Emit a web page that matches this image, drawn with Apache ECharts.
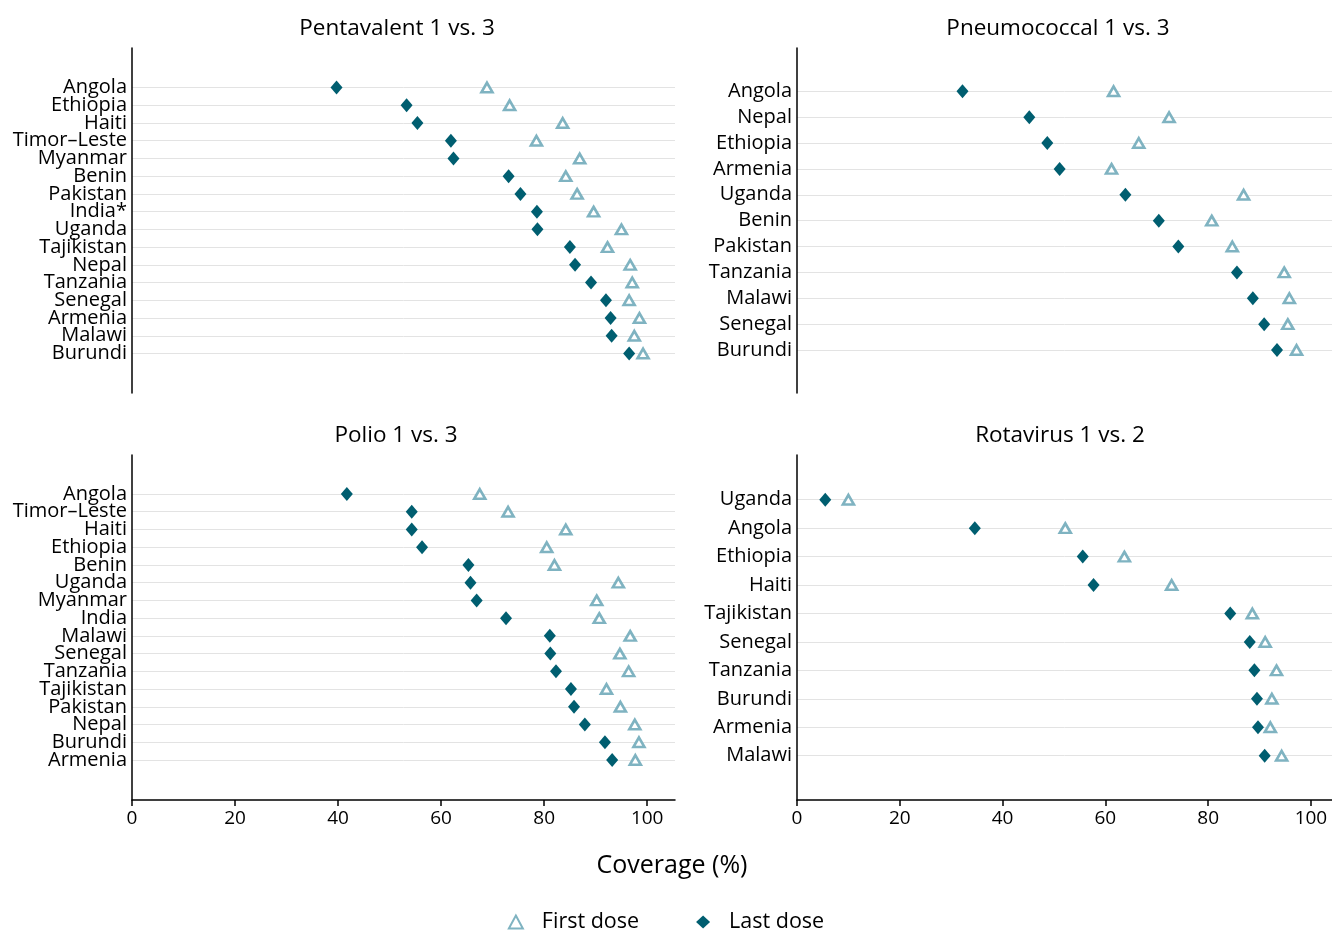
<!DOCTYPE html>
<html>
<head>
<meta charset="utf-8">
<script src="https://cdn.jsdelivr.net/npm/echarts@6/dist/echarts.min.js"></script>
<style>
  html, body { margin: 0; padding: 0; background: #fff; }
  #chart { width: 1332px; height: 930px; }
</style>
</head>
<body>
<div id="chart"></div>
<script>
// data
var pentaCountries = ['Angola', 'Ethiopia', 'Haiti', 'Timor\u2013Leste', 'Myanmar', 'Benin', 'Pakistan', 'India*', 'Uganda', 'Tajikistan', 'Nepal', 'Tanzania', 'Senegal', 'Armenia', 'Malawi', 'Burundi'];
var pentaFirst = [68.9, 73.3, 83.6, 78.5, 86.9, 84.2, 86.4, 89.6, 95.0, 92.3, 96.7, 97.1, 96.5, 98.5, 97.5, 99.2];
var pentaLast = [39.7, 53.3, 55.4, 61.9, 62.4, 73.1, 75.4, 78.6, 78.7, 85.0, 86.0, 89.1, 92.0, 92.9, 93.1, 96.5];

var pneumoCountries = ['Angola', 'Nepal', 'Ethiopia', 'Armenia', 'Uganda', 'Benin', 'Pakistan', 'Tanzania', 'Malawi', 'Senegal', 'Burundi'];
var pneumoFirst = [61.6, 72.4, 66.5, 61.2, 86.9, 80.7, 84.7, 94.8, 95.8, 95.5, 97.2];
var pneumoLast = [32.2, 45.2, 48.7, 51.1, 63.9, 70.4, 74.2, 85.6, 88.7, 90.9, 93.4];

var polioCountries = ['Angola', 'Timor\u2013Leste', 'Haiti', 'Ethiopia', 'Benin', 'Uganda', 'Myanmar', 'India', 'Malawi', 'Senegal', 'Tanzania', 'Tajikistan', 'Pakistan', 'Nepal', 'Burundi', 'Armenia'];
var polioFirst = [67.5, 73.0, 84.2, 80.5, 82.0, 94.4, 90.2, 90.7, 96.7, 94.7, 96.4, 92.1, 94.8, 97.6, 98.4, 97.7];
var polioLast = [41.7, 54.3, 54.3, 56.3, 65.3, 65.7, 66.9, 72.6, 81.1, 81.2, 82.3, 85.2, 85.8, 87.9, 91.8, 93.2];

var rotaCountries = ['Uganda', 'Angola', 'Ethiopia', 'Haiti', 'Tajikistan', 'Senegal', 'Tanzania', 'Burundi', 'Armenia', 'Malawi'];
var rotaFirst = [10.0, 52.2, 63.7, 72.9, 88.6, 91.1, 93.3, 92.4, 92.1, 94.3];
var rotaLast = [5.5, 34.6, 55.6, 57.7, 84.3, 88.1, 89.0, 89.5, 89.7, 91.0];

var xTicks = [0, 20, 40, 60, 80, 100];

var FONT = 'Open Sans';
var TXT = '#000';
var firstColor = '#7fb3c1';
var lastColor = '#005e70';

// panel boxes (pixels); inner = first/last category row
var panels = [
	{title: 'Pentavalent 1 vs. 3', titleX: 392, titleY: 12, left: 132, width: 543, top: 48, height: 345, innerTop: 87.5, innerBottom: 353.5, max: 105.4, xLabels: false,
		cats: pentaCountries, first: pentaFirst, last: pentaLast},
	{title: 'Pneumococcal 1 vs. 3', titleX: 1053, titleY: 12, left: 797, width: 535, top: 48, height: 345, innerTop: 91.3, innerBottom: 350, max: 104.1, xLabels: false,
		cats: pneumoCountries, first: pneumoFirst, last: pneumoLast},
	{title: 'Polio 1 vs. 3', titleX: 391, titleY: 419, left: 132, width: 543, top: 455, height: 345, innerTop: 494, innerBottom: 760, max: 105.4, xLabels: true,
		cats: polioCountries, first: polioFirst, last: polioLast},
	{title: 'Rotavirus 1 vs. 2', titleX: 1055, titleY: 419, left: 797, width: 535, top: 455, height: 345, innerTop: 499.7, innerBottom: 755.7, max: 104.1, xLabels: true,
		cats: rotaCountries, first: rotaFirst, last: rotaLast}
];

var grids = [], xAxes = [], yAxes = [], series = [], titles = [];

// outer grids: axis lines, x labels
panels.forEach(function (p, i) {
	grids.push({left: p.left, top: p.top, width: p.width, height: p.height});
	xAxes.push({
		gridIndex: i, type: 'value', min: 0, max: p.max,
		axisLine: {show: p.xLabels, onZero: false, lineStyle: {color: '#000', width: 1.5}},
		axisTick: {show: p.xLabels, length: 6, customValues: xTicks, lineStyle: {color: '#000', width: 1.5}},
		axisLabel: {show: p.xLabels, customValues: xTicks, margin: 9, color: TXT, fontFamily: FONT, fontSize: 19},
		splitLine: {show: false}
	});
	yAxes.push({
		gridIndex: i, type: 'value', min: 0, max: 1,
		axisLine: {show: true, lineStyle: {color: '#000', width: 1.5}},
		axisTick: {show: false}, axisLabel: {show: false}, splitLine: {show: false}
	});
	titles.push({
		text: p.title, left: p.titleX, top: p.titleY, textAlign: 'center',
		textStyle: {fontFamily: FONT, fontSize: 22.5, fontWeight: 'normal', color: TXT}
	});
});

// inner grids: categories and marks
panels.forEach(function (p, i) {
	var gi = panels.length + i;
	grids.push({left: p.left, top: p.innerTop, width: p.width, height: p.innerBottom - p.innerTop});
	xAxes.push({gridIndex: gi, type: 'value', min: 0, max: p.max, show: false});
	yAxes.push({
		gridIndex: gi, type: 'category', data: p.cats, inverse: true, boundaryGap: false,
		axisLine: {show: false}, axisTick: {show: false},
		axisLabel: {margin: 5, color: TXT, fontFamily: FONT, fontSize: 20, interval: 0},
		splitLine: {show: true, lineStyle: {color: '#e3e3e3', width: 1}}
	});
	series.push({
		name: 'Last dose', type: 'scatter', xAxisIndex: gi, yAxisIndex: gi,
		symbol: 'diamond', symbolSize: [12, 14],
		itemStyle: {color: lastColor, opacity: 1},
		data: p.last.map(function (v, k) { return [v, p.cats[k]]; })
	});
	series.push({
		name: 'First dose', type: 'scatter', xAxisIndex: gi, yAxisIndex: gi,
		symbol: 'triangle', symbolSize: [11, 9.5],
		itemStyle: {color: '#fff', borderColor: firstColor, borderWidth: 2.6, opacity: 1},
		data: p.first.map(function (v, k) { return [v, p.cats[k]]; })
	});
});

titles.push({
	text: 'Coverage (%)', left: 667, top: 848, textAlign: 'center',
	textStyle: {fontFamily: FONT, fontSize: 25, fontWeight: 'normal', color: TXT}
});

var myChart = echarts.init(document.getElementById('chart'));
var option = {
	animation: false,
	title: titles,
	grid: grids,
	xAxis: xAxes,
	yAxis: yAxes,
	legend: {
		data: ['First dose', 'Last dose'],
		left: 'center', top: 906,
		itemWidth: 14, itemHeight: 13, itemGap: 57,
		textStyle: {fontFamily: FONT, fontSize: 21.5, color: TXT, padding: [0, 0, 0, 14]}
	},
	series: series
};
myChart.setOption(option);
</script>
</body>
</html>
